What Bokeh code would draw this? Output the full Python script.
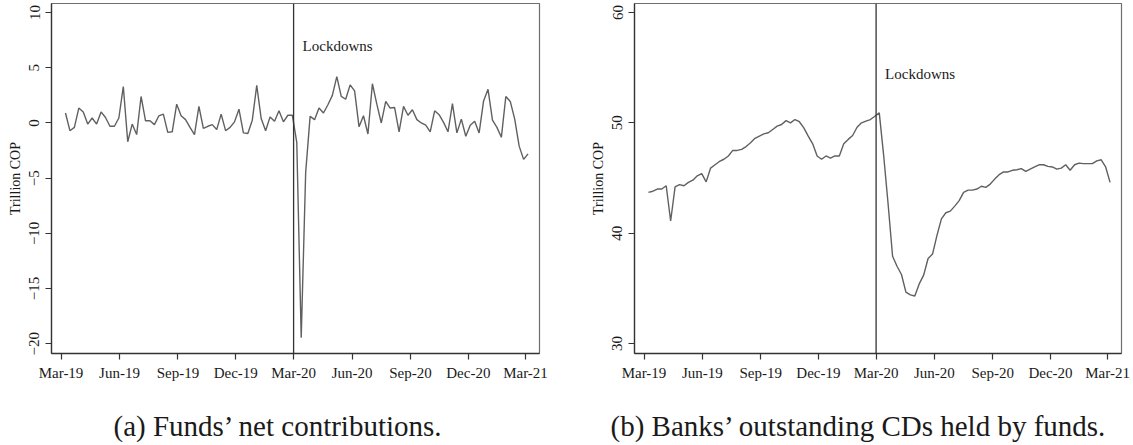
from datetime import datetime
import pandas as pd
from bokeh.plotting import figure
from bokeh.layouts import row, column
from bokeh.models import (Range1d, FixedTicker, DatetimeTickFormatter, Span,
                          Label, ColumnDataSource)
from bokeh.embed import file_html
from bokeh.resources import INLINE

# ---------------- data ----------------
week_start = "2019-03-08"
n_weeks = 105
dates = pd.date_range(start=week_start, periods=n_weeks, freq="7D")

net_contributions = [
    0.9, -0.7, -0.4, 1.35, 1.0, -0.1, 0.45, -0.1, 1.0, 0.5,
    -0.3, -0.3, 0.45, 3.3, -1.7, -0.1, -1.05, 2.4, 0.2, 0.2,
    -0.15, 0.65, 0.8, -0.85, -0.8, 1.7, 0.65, 0.3, -0.4, -1.05,
    1.5, -0.5, -0.3, -0.15, -0.6, 0.8, -0.7, -0.4, 0.1, 1.25,
    -0.9, -0.95, 0.25, 3.4, 0.4, -0.7, 0.55, 0.15, 1.1, 0.1,
    0.7, 0.7, -1.75, -19.45, -4.5, 0.6, 0.3, 1.35, 0.9, 1.65,
    2.5, 4.2, 2.4, 2.15, 3.45, 2.9, -0.35, 0.65, -1.0, 3.55,
    1.7, 0.0, 1.95, 1.35, 1.4, -0.8, 1.5, 0.7, 1.2, 0.3,
    0.0, -0.2, -0.8, 1.1, 0.75, 0.05, -0.8, 1.75, -0.9, 0.35,
    -1.2, -0.2, 0.15, -0.9, 2.0, 3.05, 0.25, -0.4, -1.3, 2.4,
    1.95, 0.35, -2.1, -3.3, -2.8,
]

cds_held = [
    43.7, 43.8, 44.0, 44.0, 44.3, 41.1, 44.2, 44.4, 44.3, 44.6,
    44.8, 45.2, 45.4, 44.65, 45.9, 46.2, 46.5, 46.7, 47.0, 47.5,
    47.5, 47.6, 47.85, 48.2, 48.6, 48.8, 49.0, 49.1, 49.4, 49.7,
    49.85, 50.2, 50.0, 50.3, 50.1, 49.55, 48.8, 48.1, 47.0, 46.7,
    47.0, 46.8, 47.0, 47.0, 48.1, 48.5, 48.85, 49.6, 50.0, 50.15,
    50.3, 50.6, 50.9, 47.0, 42.6, 37.9, 37.0, 36.25, 34.65, 34.4,
    34.3, 35.4, 36.2, 37.7, 38.1, 39.8, 41.3, 41.85, 42.0, 42.45,
    42.95, 43.7, 43.9, 43.9, 44.0, 44.25, 44.15, 44.45, 44.9, 45.3,
    45.55, 45.55, 45.7, 45.75, 45.85, 45.6, 45.8, 46.0, 46.2, 46.2,
    46.05, 46.0, 45.8, 45.9, 46.2, 45.7, 46.2, 46.35, 46.3, 46.3,
    46.3, 46.55, 46.65, 46.0, 44.6,
]

x_tick_dates = ["2019-03-01", "2019-06-01", "2019-09-01", "2019-12-01",
                "2020-03-01", "2020-06-01", "2020-09-01", "2020-12-01",
                "2021-03-01"]
y_ticks_a = [10, 5, 0, -5, -10, -15, -20]
y_ticks_b = [30, 40, 50, 60]
lockdown_date = "2020-03-01"
lockdown_text = "Lockdowns"
y_label = "Trillion COP"
caption_a = "(a) Funds\u2019 net contributions."
caption_b = "(b) Banks\u2019 outstanding CDs held by funds."

# ---------------- styling ----------------
SERIF = "Liberation Serif"
TXT = "#1a1a1a"
LINE = "#606060"
AXIS = "#333333"
CHART_H = 392
CAP_H = 445 - CHART_H


def ms(d):
    return pd.Timestamp(d).value / 1e6


def make_panel(values, yticks, yrange, width, bl, br, label_y):
    p = figure(width=width, height=CHART_H, x_axis_type="datetime",
               output_backend="svg", toolbar_location=None,
               x_range=Range1d(datetime(2019, 2, 14), datetime(2021, 3, 23)),
               y_range=Range1d(*yrange),
               min_border_left=bl, min_border_right=br,
               min_border_top=3, min_border_bottom=39)
    p.background_fill_color = "white"
    p.border_fill_color = "white"
    p.outline_line_color = "#6e6e6e"
    p.outline_line_width = 1.2
    p.xgrid.visible = False
    p.ygrid.visible = False

    src = ColumnDataSource(dict(x=dates, y=values))
    p.line("x", "y", source=src, line_color=LINE, line_width=1.4)

    p.add_layout(Span(location=ms(lockdown_date), dimension="height",
                      line_color="#333333", line_width=1.3))
    p.add_layout(Label(x=ms(lockdown_date), y=label_y, x_offset=9,
                       text=lockdown_text, text_font=SERIF,
                       text_font_size="15px", text_color=TXT,
                       text_baseline="alphabetic"))

    p.xaxis.ticker = FixedTicker(ticks=[ms(d) for d in x_tick_dates])
    fmt = "%b-%y"
    p.xaxis.formatter = DatetimeTickFormatter(
        days=fmt, months=fmt, years=fmt, hours=fmt, minutes=fmt)
    p.yaxis.ticker = FixedTicker(ticks=yticks)
    p.yaxis.major_label_orientation = "vertical"
    p.yaxis.axis_label = y_label

    for ax in (p.xaxis[0], p.yaxis[0]):
        ax.axis_line_color = AXIS
        ax.axis_line_width = 1.3
        ax.major_tick_line_color = AXIS
        ax.major_tick_line_width = 1.2
        ax.major_tick_in = 0
        ax.major_tick_out = 6
        ax.minor_tick_line_color = None
        ax.major_label_text_font = SERIF
        ax.major_label_text_font_size = "15px"
        ax.major_label_text_color = TXT
        ax.axis_label_text_font = SERIF
        ax.axis_label_text_font_size = "14px"
        ax.axis_label_text_font_style = "normal"
        ax.axis_label_text_color = TXT
    p.xaxis.major_label_standoff = 5
    p.yaxis.major_label_standoff = 6
    p.yaxis.axis_label_standoff = 4
    return p


def make_caption(text, width, x_start):
    c = figure(width=width, height=CAP_H, output_backend="svg",
               toolbar_location=None, x_axis_location=None,
               y_axis_location=None, x_range=Range1d(0, 1),
               y_range=Range1d(0, 1), min_border=0)
    c.outline_line_color = None
    c.xgrid.visible = False
    c.ygrid.visible = False
    c.background_fill_color = "white"
    c.border_fill_color = "white"
    c.add_layout(Label(x=x_start, y=20, x_units="screen", y_units="screen",
                       text=text, text_font=SERIF, text_font_size="29px",
                       text_color=TXT, text_baseline="alphabetic",
                       text_align="left"))
    return c


p1 = make_panel(net_contributions, y_ticks_a, (-20.88, 10.82), 566, 51, 27, 7.0)
p2 = make_panel(cds_held, y_ticks_b, (29.09, 60.82), 567, 68, 12, 54.47)
c1 = make_caption(caption_a, 566, 113)
c2 = make_caption(caption_b, 567, 44)

layout = column(row(p1, p2), row(c1, c2))
open("out.html", "w").write(file_html(layout, INLINE))
